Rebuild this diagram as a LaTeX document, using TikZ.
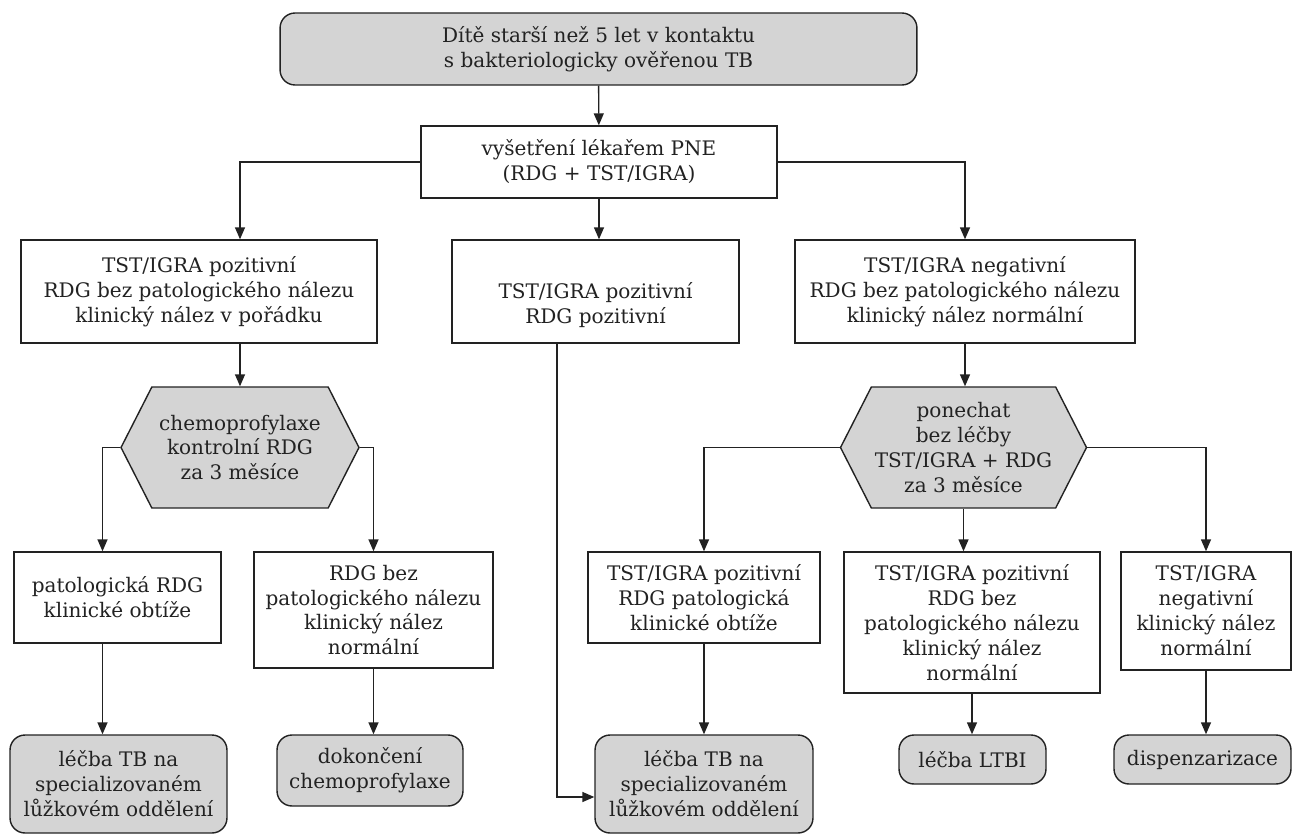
\documentclass[tikz,border=0pt]{standalone}
\usepackage{fontspec}
\setmainfont{DejaVu Serif}
\usetikzlibrary{arrows.meta, shapes.symbols, calc}

\definecolor{boxgray}{HTML}{D4D4D4}
\definecolor{inkgray}{HTML}{222222}

\begin{document}
\begin{tikzpicture}[
    x=0.02cm, y=-0.02cm,
    font=\fontsize{11.4}{14.2}\selectfont,
    plain box/.style={
        draw=inkgray,
        line width=0.8pt,
        fill=white,
        text=inkgray,
        align=center,
        inner sep=2pt
    },
    end box/.style={
        plain box,
        fill=boxgray,
        rounded corners=0.3cm
    },
    check box/.style={
        plain box,
        fill=boxgray,
        signal,
        signal to=west and east,
        signal pointer angle=126
    },
    flow/.style={
        draw=inkgray,
        line width=0.8pt,
        -{Triangle[length=0.24cm, width=0.2cm]}
    }
]
    \useasboundingbox (0,0) rectangle (1295,835);

    % --- top ---
    \node[end box, minimum width=12.74cm, minimum height=1.44cm] (start) at (598.5,49)
        {Dítě starší než 5 let v kontaktu\\s bakteriologicky ověřenou TB};
    \node[plain box, minimum width=7.12cm, minimum height=1.44cm] (exam) at (599,162)
        {vyšetření lékařem PNE\\(RDG + TST/IGRA)};

    % --- first results ---
    \node[plain box, minimum width=7.12cm, minimum height=2.06cm] (posclear) at (199,291.5)
        {TST/IGRA pozitivní\\RDG bez patologického nálezu\\klinický nález v pořádku};
    \node[plain box, minimum width=5.74cm, minimum height=2.06cm] (pospos) at (595.5,291.5)
        {\strut\\TST/IGRA pozitivní\\RDG pozitivní};
    \node[plain box, minimum width=6.8cm, minimum height=2.06cm] (negclear) at (965,291.5)
        {TST/IGRA negativní\\RDG bez patologického nálezu\\klinický nález normální};

    % --- decisions ---
    \node[check box, minimum width=4.76cm, minimum height=2.42cm] (chemo) at (240,447.5)
        {chemoprofylaxe\\kontrolní RDG\\za 3 měsíce};
    \node[check box, minimum width=4.74cm, minimum height=2.42cm] (wait) at (963.5,447.5)
        {ponechat\\bez léčby\\TST/IGRA + RDG\\za 3 měsíce};

    % --- second results ---
    \node[plain box, minimum width=4.14cm, minimum height=1.82cm] (chemobad) at (117.5,597.5)
        {patologická RDG\\klinické obtíže};
    \node[plain box, minimum width=4.78cm, minimum height=2.32cm] (chemook) at (373.5,610)
        {RDG bez\\patologického nálezu\\klinický nález\\normální};
    \node[plain box, minimum width=4.64cm, minimum height=1.82cm] (waitbad) at (704,597.5)
        {TST/IGRA pozitivní\\RDG patologická\\klinické obtíže};
    \node[plain box, minimum width=5.12cm, minimum height=2.82cm] (waitpos) at (972,622.5)
        {TST/IGRA pozitivní\\RDG bez\\patologického nálezu\\klinický nález\\normální};
    \node[plain box, minimum width=3.4cm, minimum height=2.36cm] (waitneg) at (1206,611)
        {TST/IGRA\\negativní\\klinický nález\\normální};

    % --- outcomes ---
    \node[end box, minimum width=4.34cm, minimum height=1.96cm] (treatA) at (118.5,784)
        {léčba TB na\\specializovaném\\lůžkovém oddělení};
    \node[end box, minimum width=3.72cm, minimum height=1.42cm] (finish) at (370,770.5)
        {dokončení\\chemoprofylaxe};
    \node[end box, minimum width=4.36cm, minimum height=1.96cm] (treatB) at (704,784)
        {léčba TB na\\specializovaném\\lůžkovém oddělení};
    \node[end box, minimum width=2.94cm, minimum height=0.98cm] (ltbi) at (972.5,759.5)
        {léčba LTBI};
    \node[end box, minimum width=3.54cm, minimum height=0.98cm] (disp) at (1202.5,759.5)
        {dispenzarizace};

    \coordinate (bypass) at (557,797);

    % --- connectors ---
    \draw[flow] (start) -- (exam);
    \draw[flow] (exam.west) -| (chemo.north |- posclear.north);
    \draw[flow] (exam.south) -- (exam.south |- pospos.north);
    \draw[flow] (exam.east) -| (negclear.north);

    \draw[flow] (chemo.north |- posclear.south) -- (chemo.north);
    \draw[flow] (negclear.south) -- (negclear.south |- wait.north);

    \draw[flow] (chemo.west) -| ($(chemobad.north)+(-15,0)$);
    \draw[flow] (chemo.east) -| (chemook.north);
    \draw[flow] (wait.west) -| (waitbad.north);
    \draw[flow] (wait.south) -- (wait.south |- waitpos.north);
    \draw[flow] (wait.east) -| (waitneg.north);

    \draw[flow] ($(chemobad.south)+(-15,0)$) -- ($(chemobad.south |- treatA.north)+(-15,0)$);
    \draw[flow] (chemook.south) -- (chemook.south |- finish.north);
    \draw[flow] (pospos.south -| bypass) -- (bypass) -- (bypass -| treatB.west);
    \draw[flow] (waitbad.south) -- (treatB.north);
    \draw[flow] (waitpos.south) -- (waitpos.south |- ltbi.north);
    \draw[flow] (waitneg.south) -- (waitneg.south |- disp.north);

\end{tikzpicture}
\end{document}
